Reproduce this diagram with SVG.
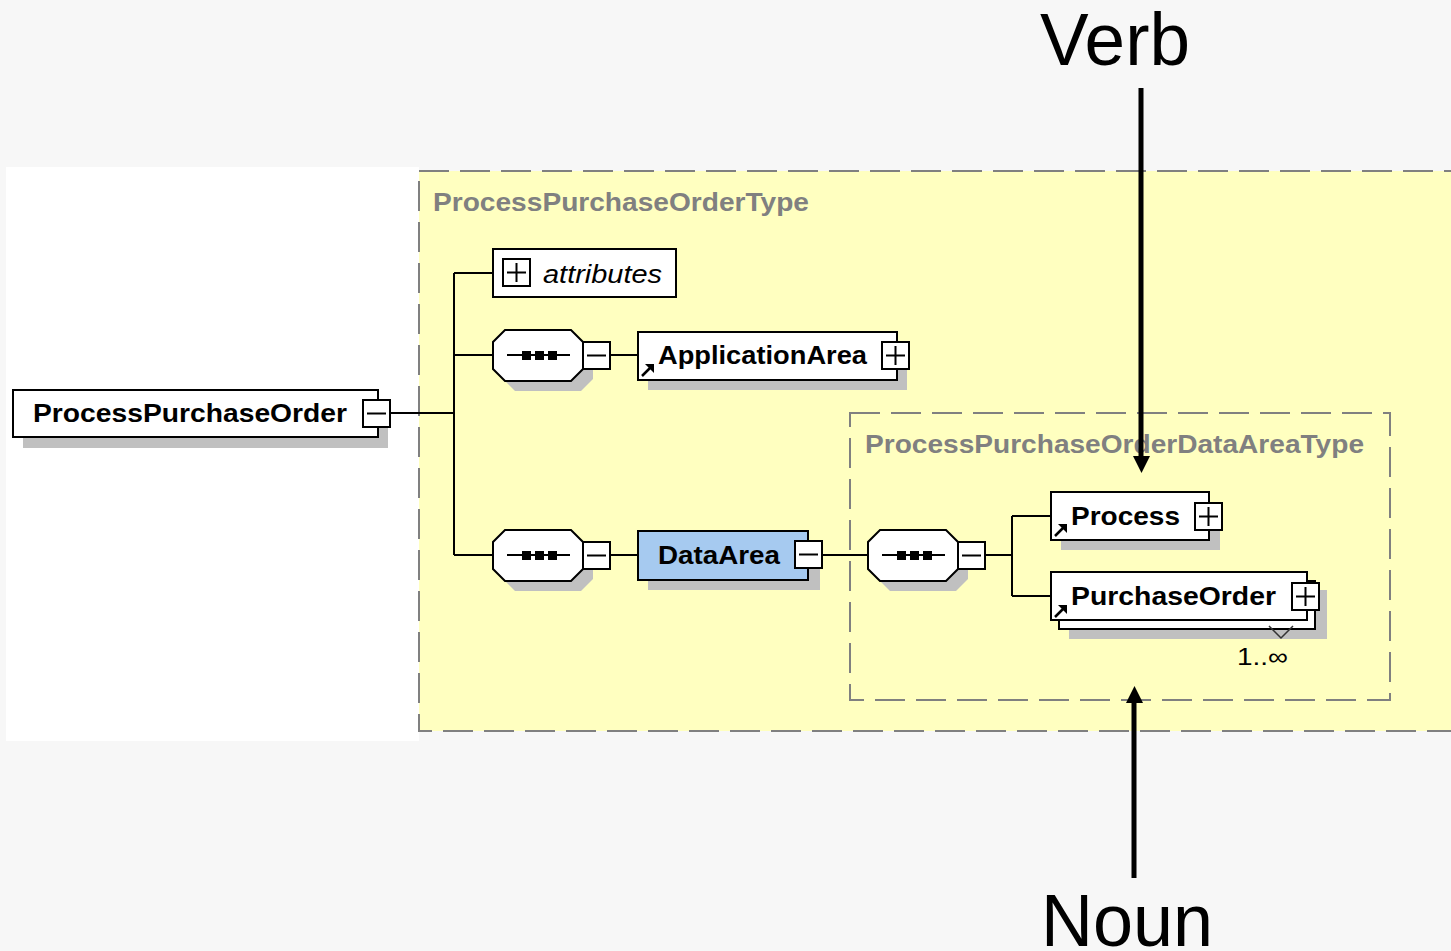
<svg xmlns="http://www.w3.org/2000/svg" xmlns:xlink="http://www.w3.org/1999/xlink" width="1451" height="951" viewBox="0 0 1451 951">
  <style>
    .lbl { font-family: "Liberation Sans", Arial, sans-serif; font-weight: bold; font-size: 26px; fill: #000; }
    .type { font-family: "Liberation Sans", Arial, sans-serif; font-weight: bold; font-size: 25px; fill: #808080; }
    .big { font-family: "Liberation Sans", Arial, sans-serif; font-size: 74px; fill: #000; }
    .box { fill: #fff; stroke: #000; stroke-width: 2; }
    .shadow { fill: #c0c0c0; }
    .wire { fill: none; stroke: #000; stroke-width: 2; }
    .dash { fill: none; stroke: #808080; stroke-width: 2; stroke-dasharray: 30 11; }
  </style>
  <defs>
    <!-- expand / collapse toggles -->
    <g id="plus">
      <rect x="0" y="0" width="27" height="27" fill="#fff" stroke="#000" stroke-width="2"/>
      <path d="M4,13.5 H23 M13.5,4 V23" stroke="#000" stroke-width="2"/>
    </g>
    <g id="minus">
      <rect x="0" y="0" width="27" height="27" fill="#fff" stroke="#000" stroke-width="2"/>
      <path d="M4,13.5 H23" stroke="#000" stroke-width="2"/>
    </g>
    <!-- sequence compositor, origin at left/top of the octagon -->
    <g id="seq">
      <path d="M22,10 H88 L100,22 V49 L88,61 H22 L10,49 V22 Z" class="shadow"/>
      <path d="M12,0 H78 L90,12 V39 L78,51 H12 L0,39 V12 Z" class="box"/>
      <path d="M14,25 H77" stroke="#000" stroke-width="2"/>
      <rect x="29" y="21" width="9" height="9" fill="#000"/>
      <rect x="42" y="21" width="9" height="9" fill="#000"/>
      <rect x="55" y="21" width="9" height="9" fill="#000"/>
      <use xlink:href="#minus" x="90" y="12"/>
    </g>
    <!-- reference arrow shown on referenced elements -->
    <g id="ref">
      <path d="M2,13 L10,5" stroke="#000" stroke-width="2.5"/>
      <path d="M5,1 H14 V10 Z" fill="#000"/>
    </g>
  </defs>

  <!-- page background -->
  <rect x="0" y="0" width="1451" height="951" fill="#f7f7f7"/>
  <rect x="6" y="167" width="413" height="574" fill="#fff"/>

  <!-- complex type area -->
  <g id="ProcessPurchaseOrderType">
    <rect x="419" y="171" width="1100" height="560" fill="#ffffc0"/>
    <rect x="419" y="171" width="1100" height="560" class="dash"/>
    <text x="433" y="211" class="type" textLength="376" lengthAdjust="spacingAndGlyphs">ProcessPurchaseOrderType</text>
  </g>

  <g id="ProcessPurchaseOrderDataAreaType">
    <rect x="850" y="413" width="540" height="287" class="dash" stroke="#999"/>
    <text x="865" y="453" class="type" textLength="499" lengthAdjust="spacingAndGlyphs">ProcessPurchaseOrderDataAreaType</text>
  </g>

  <!-- connectors -->
  <g id="connectors">
    <path class="wire" d="M390,413 H454 M454,273 V555 M454,273 H493 M454,355 H493 M454,555 H493"/>
    <path class="wire" d="M610,355 H638 M610,555 H638"/>
    <path class="wire" d="M822,555 H868"/>
    <path class="wire" d="M985,555 H1012 M1012,516 V596 M1012,516 H1051 M1012,596 H1051"/>
  </g>

  <!-- root element -->
  <g id="ProcessPurchaseOrder">
    <rect x="23" y="400" width="365" height="48" class="shadow"/>
    <rect x="13" y="390" width="365" height="47" class="box"/>
    <text x="33" y="422" class="lbl" textLength="314" lengthAdjust="spacingAndGlyphs">ProcessPurchaseOrder</text>
    <use xlink:href="#minus" x="363" y="400"/>
  </g>

  <g id="attributes">
    <rect x="493" y="249" width="183" height="48" class="box"/>
    <use xlink:href="#plus" x="503" y="259"/>
    <text x="543" y="283" font-family="Liberation Sans, Arial, sans-serif" font-style="italic" font-size="26" textLength="119" lengthAdjust="spacingAndGlyphs">attributes</text>
  </g>

  <g id="seq-main-1">
    <use xlink:href="#seq" x="493" y="330"/>
  </g>

  <g id="ApplicationArea">
    <rect x="648" y="342" width="259" height="48" class="shadow"/>
    <rect x="638" y="332" width="259" height="48" class="box"/>
    <use xlink:href="#ref" x="640" y="363"/>
    <text x="658" y="364" class="lbl" textLength="209" lengthAdjust="spacingAndGlyphs">ApplicationArea</text>
    <use xlink:href="#plus" x="882" y="342"/>
  </g>

  <g id="seq-main-2">
    <use xlink:href="#seq" x="493" y="530"/>
  </g>

  <g id="DataArea">
    <rect x="648" y="541" width="172" height="49" class="shadow"/>
    <rect x="638" y="531" width="170" height="49" fill="#a6caf0" stroke="#000" stroke-width="2"/>
    <text x="658" y="564" class="lbl" textLength="122" lengthAdjust="spacingAndGlyphs">DataArea</text>
    <use xlink:href="#minus" x="795" y="541"/>
  </g>

  <g id="seq-dataarea">
    <use xlink:href="#seq" x="868" y="530"/>
  </g>

  <g id="Process">
    <rect x="1061" y="502" width="159" height="48" class="shadow"/>
    <rect x="1051" y="492" width="158" height="48" class="box"/>
    <use xlink:href="#ref" x="1053" y="523"/>
    <text x="1071" y="525" class="lbl" textLength="109" lengthAdjust="spacingAndGlyphs">Process</text>
    <use xlink:href="#plus" x="1195" y="503"/>
  </g>

  <g id="PurchaseOrder">
    <rect x="1069" y="590" width="258" height="49" class="shadow"/>
    <rect x="1059" y="581" width="256" height="48" class="box"/>
    <rect x="1051" y="572" width="256" height="48" class="box"/>
    <use xlink:href="#ref" x="1053" y="604"/>
    <text x="1071" y="605" class="lbl" textLength="205" lengthAdjust="spacingAndGlyphs">PurchaseOrder</text>
    <use xlink:href="#plus" x="1292" y="583"/>
    <path d="M1269,626 L1281,638 L1293,626" fill="none" stroke="#333" stroke-width="1.5"/>
    <text x="1237" y="665" font-family="Liberation Sans, Arial, sans-serif" font-size="24" textLength="51" lengthAdjust="spacingAndGlyphs">1..∞</text>
  </g>

  <!-- annotations -->
  <g id="Verb">
    <text x="1040" y="65" class="big" textLength="150" lengthAdjust="spacingAndGlyphs">Verb</text>
    <path d="M1141,88 V460" stroke="#000" stroke-width="5"/>
    <path d="M1133,456 H1150 L1141.5,473 Z" fill="#000"/>
  </g>

  <g id="Noun">
    <path d="M1134,878 V698" stroke="#000" stroke-width="5"/>
    <path d="M1126,703 H1143 L1134.5,686 Z" fill="#000"/>
    <text x="1041" y="946" class="big" font-size="72" textLength="172" lengthAdjust="spacingAndGlyphs">Noun</text>
  </g>
</svg>
